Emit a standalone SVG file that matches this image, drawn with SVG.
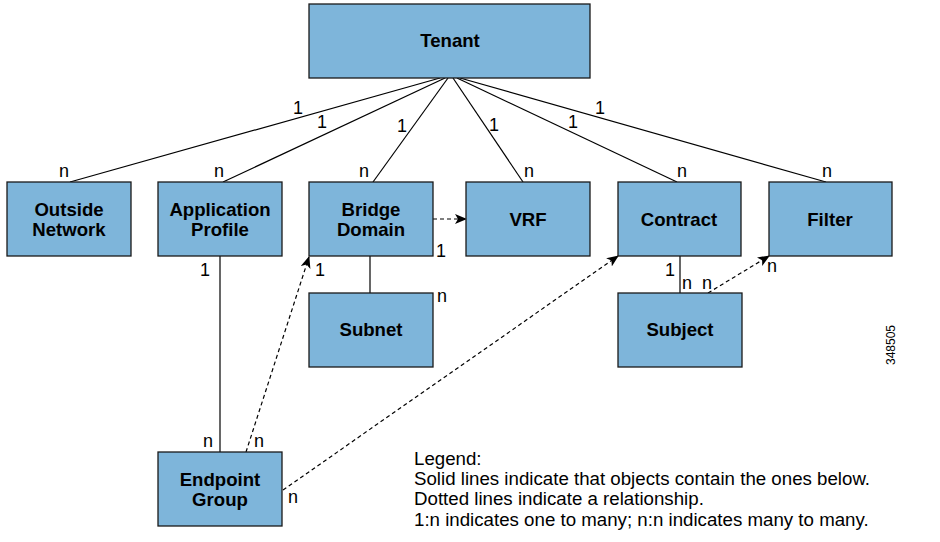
<svg xmlns="http://www.w3.org/2000/svg" width="940" height="542" viewBox="0 0 940 542">
<defs>
<style>
.box{fill:#7EB5DA;stroke:#1a1a1a;stroke-width:1.3}
.bl{font-family:"Liberation Sans",Arial,sans-serif;font-weight:bold;font-size:18.6px;fill:#000;text-anchor:middle}
.lbl{font-family:"Liberation Sans",Arial,sans-serif;font-size:18px;fill:#000;text-anchor:middle}
.leg{font-family:"Liberation Sans",Arial,sans-serif;font-size:18.7px;fill:#000}
.solid{stroke:#000;stroke-width:1.2;fill:none}
.dash{stroke:#000;stroke-width:1.2;fill:none;stroke-dasharray:4 3}
</style>
<marker id="arr" viewBox="0 0 12 10" refX="11" refY="5" markerWidth="12" markerHeight="10" markerUnits="userSpaceOnUse" orient="auto">
<path d="M0,0 L12,5 L0,10 L3,5 Z" fill="#000"/>
</marker>
</defs>
<rect width="940" height="542" fill="#fff"/>
<g id="connectors">
<line class="solid" x1="440" y1="78" x2="70" y2="182"/>
<line class="solid" x1="445" y1="78" x2="223" y2="182"/>
<line class="solid" x1="448" y1="78" x2="373" y2="182"/>
<line class="solid" x1="453" y1="78" x2="523" y2="182"/>
<line class="solid" x1="457" y1="78" x2="677" y2="182"/>
<line class="solid" x1="460" y1="78" x2="826" y2="182"/>
<line class="solid" x1="220" y1="256" x2="220" y2="452"/>
<line class="solid" x1="370" y1="256" x2="370" y2="293"/>
<line class="solid" x1="680" y1="256" x2="680" y2="293"/>
<line class="dash" x1="433" y1="219" x2="466" y2="219" marker-end="url(#arr)"/>
<line class="dash" x1="246" y1="452" x2="309" y2="257" marker-end="url(#arr)"/>
<line class="dash" x1="283" y1="490" x2="618" y2="256" marker-end="url(#arr)"/>
<line class="dash" x1="708" y1="293" x2="769" y2="256" marker-end="url(#arr)"/>
<g class="lbl">
<text x="298" y="114">1</text>
<text x="322" y="128">1</text>
<text x="402" y="132">1</text>
<text x="494" y="131">1</text>
<text x="573" y="128">1</text>
<text x="600" y="114">1</text>
<text x="64" y="177">n</text>
<text x="219" y="177">n</text>
<text x="364" y="177">n</text>
<text x="529" y="177">n</text>
<text x="682" y="177">n</text>
<text x="827" y="177">n</text>
<text x="441" y="257">1</text>
<text x="205" y="276">1</text>
<text x="320" y="276">1</text>
<text x="442" y="302">n</text>
<text x="208" y="447">n</text>
<text x="259" y="447">n</text>
<text x="293" y="503">n</text>
<text x="670" y="276">1</text>
<text x="687" y="289">n</text>
<text x="707" y="289">n</text>
<text x="772" y="272">n</text>
</g>
</g>
<g id="tenant"><rect class="box" x="309" y="4" width="281" height="74"/><text class="bl" x="450" y="47">Tenant</text></g>
<g id="outside-network"><rect class="box" x="7" y="182" width="124" height="74"/><text class="bl" x="69" y="216">Outside</text><text class="bl" x="69" y="236">Network</text></g>
<g id="application-profile"><rect class="box" x="158" y="182" width="124" height="74"/><text class="bl" x="220" y="216">Application</text><text class="bl" x="220" y="236">Profile</text></g>
<g id="bridge-domain"><rect class="box" x="309" y="182" width="124" height="74"/><text class="bl" x="371" y="216">Bridge</text><text class="bl" x="371" y="236">Domain</text></g>
<g id="vrf"><rect class="box" x="466" y="182" width="124" height="74"/><text class="bl" x="528" y="226">VRF</text></g>
<g id="contract"><rect class="box" x="618" y="182" width="123" height="74"/><text class="bl" x="679" y="226">Contract</text></g>
<g id="filter"><rect class="box" x="769" y="182" width="123" height="74"/><text class="bl" x="830" y="226">Filter</text></g>
<g id="subnet"><rect class="box" x="309" y="293" width="124" height="74"/><text class="bl" x="371" y="336">Subnet</text></g>
<g id="subject"><rect class="box" x="618" y="293" width="124" height="74"/><text class="bl" x="680" y="336">Subject</text></g>
<g id="endpoint-group"><rect class="box" x="158" y="452" width="124" height="74"/><text class="bl" x="220" y="486">Endpoint</text><text class="bl" x="220" y="506">Group</text></g>
<g id="legend" class="leg">
<text x="414" y="465">Legend:</text>
<text x="414" y="485">Solid lines indicate that objects contain the ones below.</text>
<text x="414" y="505">Dotted lines indicate a relationship.</text>
<text x="414" y="526">1:n indicates one to many; n:n indicates many to many.</text>
</g>
<text x="0" y="0" transform="translate(895,345) rotate(-90)" text-anchor="middle" font-family="Liberation Sans,Arial,sans-serif" font-size="12px">348505</text>
</svg>
